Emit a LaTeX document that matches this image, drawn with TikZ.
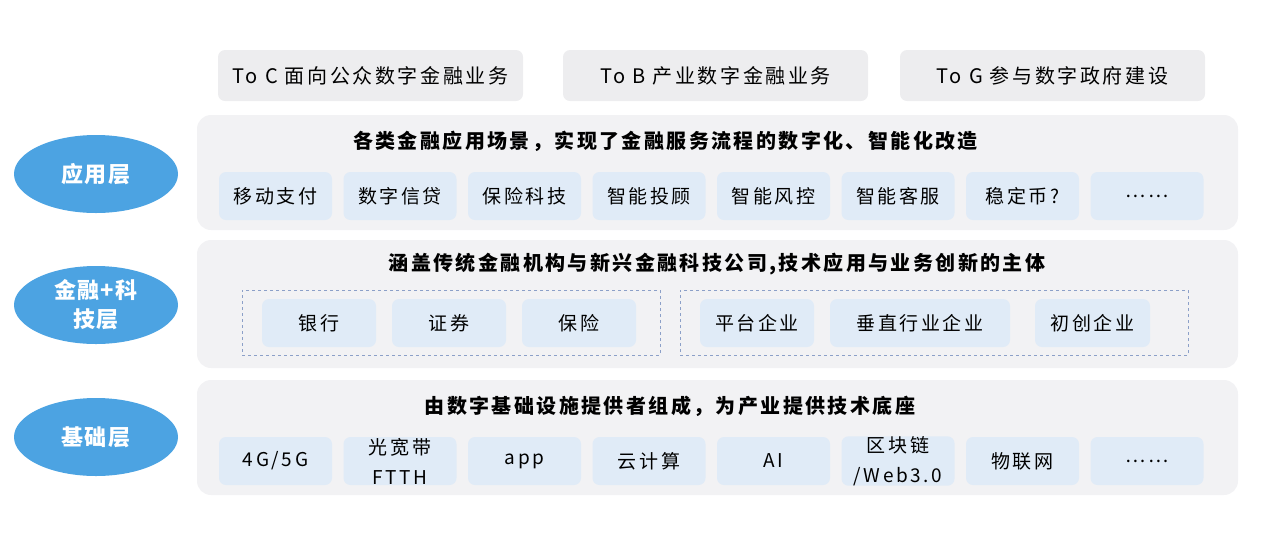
\documentclass[tikz,border=0pt]{standalone}
\usepackage{fontspec}
\setmainfont{Noto Sans CJK SC}[LetterSpace=8]
\usetikzlibrary{shapes,positioning,calc}

\definecolor{layerblue}{RGB}{76,163,226}
\definecolor{bandgray}{RGB}{242,242,244}
\definecolor{topgray}{RGB}{237,237,239}
\definecolor{itemblue}{RGB}{224,235,247}
\definecolor{dashblue}{RGB}{140,160,200}

\tikzset{
    layer/.style={ellipse, fill=layerblue, text=white, inner sep=0pt, minimum width=164pt, minimum height=78pt, align=center, font=\bfseries\fontsize{22}{29}\selectfont\addfontfeatures{LetterSpace=6}},
    band/.style={rounded corners=14pt, fill=bandgray, inner sep=0pt, minimum width=1041pt},
    topbox/.style={rounded corners=7pt, fill=topgray, inner sep=0pt, minimum width=305pt, minimum height=51pt, font=\fontsize{20}{24}\selectfont\addfontfeatures{LetterSpace=13}},
    item/.style={rounded corners=7pt, fill=itemblue, inner sep=0pt, minimum width=113pt, minimum height=48pt, align=center, font=\fontsize{19}{30}\selectfont\addfontfeatures{LetterSpace=14}},
    heading/.style={font=\bfseries\fontsize{20}{24}\selectfont\addfontfeatures{LetterSpace=12}},
    group/.style={draw=dashblue, dashed, thin, inner sep=0pt, minimum height=65pt}
}

\begin{document}
\begin{tikzpicture}[x=1pt, y=-1pt]
    \useasboundingbox (0,0) rectangle (1271,550);

    % top business lines
    \node[topbox] (toc) at (370.5,75.5) {To C 面向公众数字金融业务};
    \node[topbox] (tob) at (715.5,75.5) {To B 产业数字金融业务};
    \node[topbox] (tog) at (1052.5,75.5) {To G 参与数字政府建设};

    % layer bands
    \node[band, minimum height=115pt] (appband) at (717.5,172.5) {};
    \node[band, minimum height=128pt] (finband) at (717.5,304) {};
    \node[band, minimum height=115pt] (baseband) at (717.5,437.5) {};

    % layer labels
    \node[layer] (applayer) at (96,174) {应用层};
    \node[layer] (finlayer) at (96,305) {金融+科\\技层};
    \node[layer] (baselayer) at (96,437) {基础层};

    % application layer
    \node[heading] (apptitle) at (665.5,141) {各类金融应用场景，实现了金融服务流程的数字化、智能化改造};
    \foreach \lbl [count=\i from 0] in {移动支付,数字信贷,保险科技,智能投顾,智能风控,智能客服,稳定币?,……}
        \node[item] (app\i) at ({275.5+124.5*\i},196) {\lbl};

    % finance + tech layer
    \node[heading] (fintitle) at (717,264) {涵盖传统金融机构与新兴金融科技公司,技术应用与业务创新的主体};
    \node[group, minimum width=418pt] (oldfin) at (451,322.5) {};
    \node[group, minimum width=508pt] (newfin) at (934,322.5) {};
    \node[item, minimum width=114pt] (bank) at (319,323) {银行};
    \node[item, minimum width=114pt] (broker) at (449,323) {证券};
    \node[item, minimum width=114pt] (insure) at (579,323) {保险};
    \node[item, minimum width=114pt] (platform) at (757,323) {平台企业};
    \node[item, minimum width=180pt] (vertical) at (920,323) {垂直行业企业};
    \node[item, minimum width=115pt] (startup) at (1092.5,323) {初创企业};

    % base layer
    \node[heading] (basetitle) at (670,406) {由数字基础设施提供者组成，为产业提供技术底座};
    \foreach \lbl [count=\i from 0] in {4G/5G,光宽带\\FTTH,app,云计算,AI,区块链\\/Web3.0,物联网,……}
        \node[item] (base\i) at ({275.5+124.5*\i},461) {\lbl};
\end{tikzpicture}
\end{document}
